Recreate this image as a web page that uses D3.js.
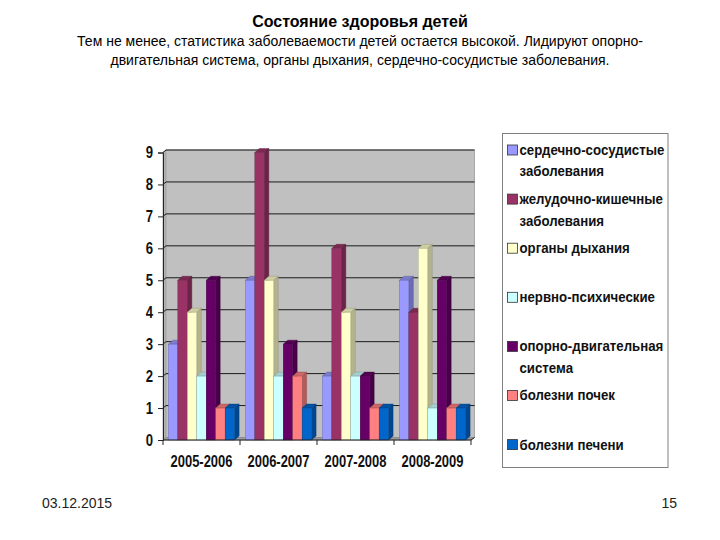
<!DOCTYPE html>
<html>
<head>
<meta charset="utf-8">
<script src="https://cdn.jsdelivr.net/npm/d3@7"></script>
<style>
  html, body { margin: 0; padding: 0; background: #ffffff; }
  svg { display: block; }
</style>
</head>
<body>
<svg id="chart" width="720" height="540"></svg>
<script>
// ---- data ----
const categories = ["2005-2006", "2006-2007", "2007-2008", "2008-2009"];
const seriesNames = [
  ["сердечно-сосудистые", "заболевания"],
  ["желудочно-кишечные", "заболевания"],
  ["органы дыхания"],
  ["нервно-психические"],
  ["опорно-двигательная", "система"],
  ["болезни почек"],
  ["болезни печени"]
];
const seriesColors = ["#9999ff", "#993366", "#ffffcc", "#ccffff", "#660066", "#ff8080", "#0066cc"];
const cardio      = [3, 5, 2, 5];
const digestive   = [5, 9, 6, 4];
const respiratory = [4, 5, 4, 6];
const nervous     = [2, 2, 2, 1];
const musculo     = [5, 3, 2, 5];
const kidney      = [1, 2, 1, 1];
const liver       = [1, 1, 1, 1];
const seriesValues = [cardio, digestive, respiratory, nervous, musculo, kidney, liver];
const yTicks = [0, 1, 2, 3, 4, 5, 6, 7, 8, 9];
const titleText = "Состояние здоровья детей";
const subtitleLines = [
  "Тем не менее, статистика заболеваемости детей остается высокой. Лидируют опорно-",
  "двигательная система, органы дыхания, сердечно-сосудистые заболевания."
];
const dateText = "03.12.2015";
const pageText = "15";

// ---- layout ----
const svg = d3.select("#chart");
const sans = "'Liberation Sans', Arial, sans-serif";

const x0 = d3.scaleBand().domain(categories).range([163, 471]).paddingInner(0.14).paddingOuter(0.07);
const idx = d3.range(seriesValues.length);
const x1 = d3.scaleBand().domain(idx).range([0, x0.bandwidth()]).padding(0);
const y = d3.scaleLinear().domain([0, 9]).range([440, 152.5]);
const dx = 4.5, dy = 4; // 3D depth
const wallL = 166, wallR = 474.5, wallOff = 2.5;

// helper: horizontally condense a text element around its anchor x
function condense(sel, sx) {
  sel.each(function () {
    const t = d3.select(this);
    const x = +t.attr("x") || 0;
    t.attr("transform", `translate(${x},0) scale(${sx},1) translate(${-x},0)`);
  });
}

// titles
svg.append("text").attr("x", 360).attr("y", 27).attr("text-anchor", "middle")
  .attr("font-family", sans).attr("font-weight", "bold").attr("font-size", 16)
  .text(titleText);
svg.selectAll("text.sub").data(subtitleLines).enter().append("text")
  .attr("class", "sub").attr("x", 360).attr("y", (d, i) => 46 + i * 19)
  .attr("text-anchor", "middle").attr("font-family", sans).attr("font-size", 14)
  .text(d => d);

// side wall (left)
svg.append("path")
  .attr("d", `M163,${y(9)}L${wallL},${y(9) - wallOff}L${wallL},${y(0) - wallOff}L163,${y(0)}Z`)
  .attr("fill", "#b4b4b4").attr("stroke", "#9a9a9a").attr("stroke-width", 0.8);
// back wall
svg.append("rect").attr("x", wallL).attr("y", y(9) - wallOff)
  .attr("width", wallR - wallL).attr("height", y(0) - y(9))
  .attr("fill", "#c0c0c0").attr("stroke", "#a8a8a8").attr("stroke-width", 1);
// floor
svg.append("path")
  .attr("d", `M163,${y(0)}L${wallL},${y(0) - wallOff}L${wallR},${y(0) - wallOff}L471,${y(0)}Z`)
  .attr("fill", "#9c9c9c").attr("stroke", "#808080").attr("stroke-width", 0.6);

// gridlines
const grid = svg.append("g");
yTicks.filter(v => v > 0).forEach(v => {
  grid.append("line").attr("x1", wallL).attr("x2", wallR)
    .attr("y1", y(v) - wallOff).attr("y2", y(v) - wallOff)
    .attr("stroke", "#1a1a1a").attr("stroke-width", 1);
  grid.append("line").attr("x1", 163).attr("x2", wallL)
    .attr("y1", y(v)).attr("y2", y(v) - wallOff)
    .attr("stroke", "#1a1a1a").attr("stroke-width", 1);
});

// bars
const shade = (c, k) => d3.color(c).darker(k).formatHex();
const barsG = svg.append("g");
categories.forEach((cat, ci) => {
  idx.forEach(si => {
    const v = seriesValues[si][ci];
    const col = seriesColors[si];
    const xl = x0(cat) + x1(si);
    const w = x1.bandwidth();
    const yt = y(v), yb = y(0);
    const g = barsG.append("g");
    g.append("path")
      .attr("d", `M${xl + w},${yt}L${xl + w + dx},${yt - dy}L${xl + w + dx},${yb - dy}L${xl + w},${yb}Z`)
      .attr("fill", shade(col, 1.0)).attr("stroke", shade(col, 1.6)).attr("stroke-width", 0.4);
    g.append("path")
      .attr("d", `M${xl},${yt}L${xl + dx},${yt - dy}L${xl + w + dx},${yt - dy}L${xl + w},${yt}Z`)
      .attr("fill", shade(col, 0.6)).attr("stroke", shade(col, 1.6)).attr("stroke-width", 0.4);
    g.append("rect").attr("x", xl).attr("y", yt).attr("width", w).attr("height", yb - yt)
      .attr("fill", col).attr("stroke", shade(col, 1.2)).attr("stroke-width", 0.4);
  });
});

// y axis
const yAxis = d3.axisLeft(y).tickValues(yTicks).tickSize(5).tickPadding(5).tickFormat(d3.format("d"));
const ya = svg.append("g").attr("transform", "translate(163,0)").call(yAxis);
ya.select(".domain").attr("stroke", "#222").attr("stroke-width", 1);
ya.selectAll(".tick line").attr("stroke", "#222");
ya.selectAll(".tick text").attr("font-family", sans).attr("font-weight", "bold")
  .attr("font-size", 16).attr("fill", "#111")
  .attr("transform", "scale(0.82,1)").attr("x", -10 / 0.82);

// x axis line & ticks at category boundaries
const xa = svg.append("g");
xa.append("line").attr("x1", 163).attr("x2", 471).attr("y1", y(0)).attr("y2", y(0))
  .attr("stroke", "#222").attr("stroke-width", 1);
xa.append("line").attr("x1", 471).attr("x2", wallR).attr("y1", y(0)).attr("y2", y(0) - wallOff)
  .attr("stroke", "#222").attr("stroke-width", 1);
d3.range(categories.length + 1).forEach(i => {
  const xb = x0.range()[0] + i * x0.step();
  xa.append("line").attr("x1", xb).attr("x2", xb).attr("y1", y(0)).attr("y2", y(0) + 5)
    .attr("stroke", "#222").attr("stroke-width", 1);
});
const catText = xa.selectAll("text.cat").data(categories).enter().append("text")
  .attr("class", "cat")
  .attr("x", (d, i) => x0.range()[0] + (i + 0.5) * x0.step())
  .attr("y", 467).attr("text-anchor", "middle")
  .attr("font-family", sans).attr("font-weight", "bold").attr("font-size", 16).attr("fill", "#111")
  .text(d => d);
{
  const wMeas = catText.node().getComputedTextLength();
  condense(catText, 62 / wMeas);
}

// legend
const lg = svg.append("g");
lg.append("rect").attr("x", 502.5).attr("y", 133.5).attr("width", 165.5).attr("height", 334)
  .attr("fill", "#ffffff").attr("stroke", "#808080").attr("stroke-width", 1);
const legTexts = [];
seriesNames.forEach((lines, i) => {
  const base = 155 + i * 49.1;
  lg.append("rect").attr("x", 507.5).attr("y", base - 10).attr("width", 10).attr("height", 10)
    .attr("fill", seriesColors[i]).attr("stroke", "#333").attr("stroke-width", 0.8);
  lines.forEach((ln, j) => {
    legTexts.push(lg.append("text").attr("x", 519.5).attr("y", base + j * 21.5)
      .attr("font-family", sans).attr("font-weight", "bold").attr("font-size", 15).attr("fill", "#111")
      .text(ln).node());
  });
});
{
  const wMeas = legTexts[0].getComputedTextLength();
  condense(d3.selectAll(legTexts), 145 / wMeas);
}

// footer
svg.append("text").attr("x", 42).attr("y", 508).attr("font-family", sans).attr("font-size", 14)
  .attr("fill", "#222").text(dateText);
svg.append("text").attr("x", 677).attr("y", 508).attr("text-anchor", "end").attr("font-family", sans)
  .attr("font-size", 14).attr("fill", "#222").text(pageText);
</script>
</body>
</html>
